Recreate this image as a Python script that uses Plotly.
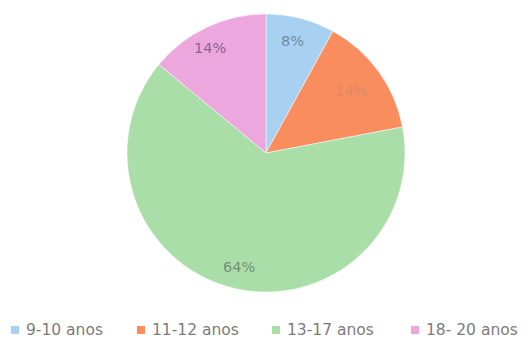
import math
import plotly.graph_objects as go

# Age groups and their share of respondents
faixas = ["9-10 anos", "11-12 anos", "13-17 anos", "18- 20 anos"]
percentuais = [8, 14, 64, 14]

cores = ["#a8d0f0", "#f98d5e", "#a9dea9", "#eda7df"]
cores_texto = ["#6f8ca6", "#d98b69", "#738f76", "#8d6389"]

W, H = 527, 340
cx, cy, r = 266, 153, 139          # pie centre and radius in pixels

# placement of each percentage label: fraction of radius, angular shift (deg)
rotulo_raio = [0.83, 0.76, 0.84, 0.86]
rotulo_desvio = [-1, 0, -1, -3]

FONTE = "DejaVu Sans, sans-serif"

fig = go.Figure(
    go.Pie(
        labels=faixas,
        values=percentuais,
        sort=False,
        direction="clockwise",
        rotation=0,
        marker=dict(colors=cores, line=dict(color="white", width=0.5)),
        textinfo="none",
        domain=dict(x=[(cx - r) / W, (cx + r) / W], y=[1 - (cy + r) / H, 1 - (cy - r) / H]),
        hoverinfo="label+percent",
        showlegend=False,
    )
)

# percentage labels, positioned from each slice's mid angle
total = sum(percentuais)
acumulado = 0
for v, cor, fr, dv in zip(percentuais, cores_texto, rotulo_raio, rotulo_desvio):
    meio = (acumulado + v / 2) / total * 360 + dv
    acumulado += v
    ang = math.radians(meio)
    px = cx + fr * r * math.sin(ang)
    py = cy - fr * r * math.cos(ang)
    fig.add_annotation(
        x=px / W, y=1 - py / H, xref="paper", yref="paper",
        xanchor="center", yanchor="middle",
        text=f"{v}%", showarrow=False,
        font=dict(family=FONTE, size=14.5, color=cor),
    )

# legend row along the bottom: colour swatch followed by the group name
legenda_x = [11, 137, 272, 411]
legenda_y = 330
lado = 8
for nome, cor, lx in zip(faixas, cores, legenda_x):
    fig.add_shape(
        type="rect", xref="paper", yref="paper",
        x0=lx / W, x1=(lx + lado) / W,
        y0=1 - (legenda_y + lado / 2) / H, y1=1 - (legenda_y - lado / 2) / H,
        fillcolor=cor, line=dict(width=0),
    )
    fig.add_annotation(
        x=(lx + lado + 5) / W, y=1 - legenda_y / H, xref="paper", yref="paper",
        xanchor="left", yanchor="middle", showarrow=False,
        text=nome,
        font=dict(family=FONTE, size=15.5, color="#7c7c7c"),
    )

fig.update_layout(
    width=W,
    height=H,
    margin=dict(l=0, r=0, t=0, b=0),
    paper_bgcolor="white",
    plot_bgcolor="white",
    showlegend=False,
)

fig.write_html("out.html")
